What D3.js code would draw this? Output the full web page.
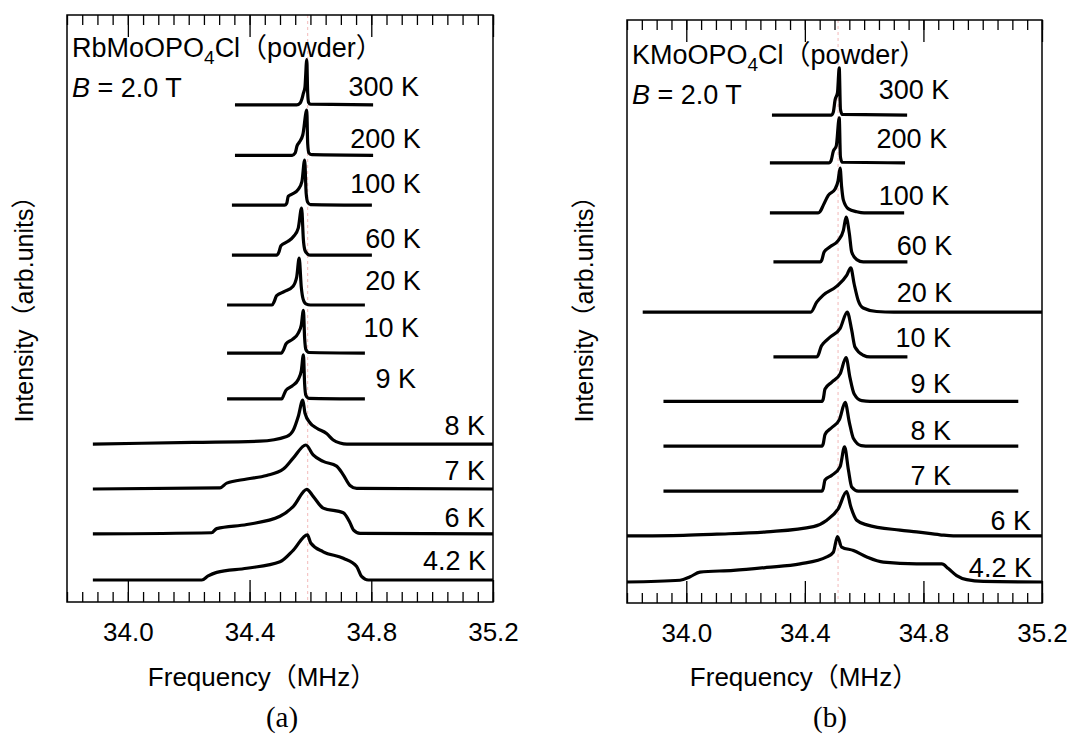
<!DOCTYPE html>
<html>
<head>
<meta charset="utf-8">
<script src="https://d3js.org/d3.v7.min.js"></script>
<style>
  body { margin: 0; background: #fff; }
  svg text { font-family: "Liberation Sans", Arial, "Noto Sans CJK JP", sans-serif; fill: #000; }
  .trace { fill: none; stroke: #000; stroke-width: 3.2; stroke-linejoin: round; }
  .frame { fill: none; stroke: #000; stroke-width: 1.5; }
  .axis line { stroke: #000; stroke-width: 1.3; }
  .axis path { display: none; }
  .refline { stroke: #f3b9b9; stroke-width: 1; stroke-dasharray: 3,3; }
</style>
</head>
<body>
<script>
// temperature labels (top to bottom)
var temps = ["300 K", "200 K", "100 K", "60 K", "20 K", "10 K", "9 K", "8 K", "7 K", "6 K", "4.2 K"];

// (a) RbMoOPO4Cl : vertical offset of each trace (arb. units) and [MHz, intensity] points
var offsetsA = [84.7, 76.1, 67.6, 59.1, 50.6, 42.4, 34.6, 26.9, 19.25, 11.6, 3.75];
var spectraA = [
  [[34.352,0],[34.555,0],[34.566,0.3],[34.572,1.0],[34.577,2.0],[34.582,3.0],[34.588,7.7],[34.591,2.0],[34.594,0.4],[34.600,0.1],[34.806,0]],
  [[34.352,0],[34.540,0],[34.550,0.4],[34.556,1.6],[34.563,2.2],[34.575,3.5],[34.588,7.7],[34.591,2.0],[34.595,0.4],[34.605,0.1],[34.806,0]],
  [[34.342,0],[34.515,0],[34.522,0.3],[34.527,1.5],[34.540,1.9],[34.560,2.7],[34.572,4.0],[34.581,7.7],[34.586,2.0],[34.591,0.5],[34.600,0.1],[34.802,0]],
  [[34.342,0],[34.490,0],[34.497,0.6],[34.503,1.6],[34.525,2.3],[34.545,3.2],[34.560,4.6],[34.571,8.0],[34.577,2.5],[34.582,0.8],[34.590,0.2],[34.600,0],[34.802,0]],
  [[34.326,0],[34.474,0],[34.481,0.6],[34.489,1.6],[34.515,2.3],[34.543,3.2],[34.555,4.8],[34.563,8.0],[34.570,3.0],[34.576,1.0],[34.585,0.2],[34.600,0],[34.779,0]],
  [[34.326,0],[34.505,0],[34.512,0.6],[34.520,1.6],[34.540,2.3],[34.560,3.4],[34.570,4.8],[34.577,7.3],[34.581,2.5],[34.585,0.6],[34.595,0.1],[34.779,0]],
  [[34.326,0],[34.506,0],[34.512,0.6],[34.520,1.5],[34.540,2.2],[34.560,3.3],[34.570,4.8],[34.577,7.5],[34.581,2.5],[34.585,0.6],[34.595,0.1],[34.779,0]],
  [[33.885,0],[34.215,0.3],[34.434,0.5],[34.522,1.3],[34.544,2.4],[34.560,4.7],[34.575,7.5],[34.582,5.3],[34.599,3.6],[34.621,2.7],[34.653,1.8],[34.675,0.7],[34.697,0.2],[34.720,0],[35.2,0]],
  [[33.885,0],[34.303,0.2],[34.325,1.0],[34.391,1.7],[34.456,2.3],[34.511,3.4],[34.544,5.3],[34.585,7.5],[34.609,5.8],[34.642,4.7],[34.686,3.9],[34.708,2.4],[34.730,0.6],[34.752,0.1],[35.2,0]],
  [[33.885,0],[34.275,0.2],[34.292,0.9],[34.391,1.6],[34.500,3.0],[34.544,4.7],[34.588,7.6],[34.609,6.4],[34.642,4.4],[34.708,3.6],[34.730,1.9],[34.741,0.7],[34.763,0.1],[35.2,0]],
  [[33.885,0],[34.243,0],[34.264,0.7],[34.292,1.3],[34.391,2.0],[34.500,3.1],[34.544,5.1],[34.590,7.7],[34.601,6.3],[34.642,4.8],[34.708,3.7],[34.752,2.3],[34.768,0.6],[34.790,0],[35.2,0]]
];

// (b) KMoOPO4Cl
var offsetsB = [83.7, 75.5, 66.9, 58.5, 49.9, 42.2, 34.6, 26.9, 19.2, 11.5, 3.6];
var spectraB = [
  [[34.289,0],[34.490,0],[34.496,0.5],[34.502,2.6],[34.510,3.8],[34.516,8.1],[34.520,1.0],[34.526,0.1],[34.745,0]],
  [[34.282,0],[34.482,0],[34.488,0.3],[34.496,2.0],[34.506,2.9],[34.516,7.7],[34.520,1.0],[34.526,0.1],[34.738,0]],
  [[34.282,0],[34.445,0],[34.451,0.2],[34.462,1.3],[34.479,3.0],[34.502,4.1],[34.512,5.5],[34.519,7.7],[34.524,4.5],[34.530,2.2],[34.547,0.7],[34.575,0.2],[34.600,0],[34.735,0]],
  [[34.294,0],[34.452,0],[34.457,0.3],[34.465,1.7],[34.485,2.6],[34.513,3.7],[34.530,5.4],[34.539,7.7],[34.550,4.9],[34.558,1.7],[34.575,0.4],[34.597,0],[34.746,0]],
  [[33.853,0],[34.420,0],[34.440,1.7],[34.462,2.9],[34.507,4.4],[34.541,6.3],[34.555,7.6],[34.566,4.9],[34.580,2.0],[34.597,0.7],[34.642,0.1],[34.700,0],[35.2,0]],
  [[34.294,0],[34.440,0],[34.445,0.3],[34.455,1.8],[34.462,2.3],[34.485,3.4],[34.519,4.9],[34.543,7.7],[34.558,4.6],[34.569,1.7],[34.597,0.3],[34.620,0],[34.746,0]],
  [[33.923,0],[34.458,0],[34.462,0.4],[34.468,2.1],[34.491,3.3],[34.519,4.7],[34.539,7.5],[34.552,4.1],[34.566,1.3],[34.592,0.1],[34.620,0],[35.120,0]],
  [[33.923,0],[34.458,0],[34.462,0.4],[34.468,2.0],[34.491,3.2],[34.517,4.6],[34.536,7.5],[34.550,4.1],[34.564,1.3],[34.590,0.1],[34.620,0],[35.120,0]],
  [[33.923,0],[34.458,0],[34.462,0.4],[34.468,1.9],[34.491,2.7],[34.519,4.2],[34.534,7.6],[34.547,3.6],[34.558,0.7],[34.580,0],[35.120,0]],
  [[33.8,0],[33.990,0.1],[34.103,0.3],[34.271,0.7],[34.429,1.6],[34.474,2.7],[34.513,4.7],[34.541,7.6],[34.555,5.0],[34.575,2.7],[34.609,1.9],[34.721,1.0],[34.777,0.7],[34.856,0.2],[34.901,0],[35.2,0]],
  [[33.8,0],[33.979,0.3],[34.013,0.9],[34.046,1.7],[34.159,2.0],[34.271,2.5],[34.384,3.1],[34.474,4.3],[34.496,5.1],[34.510,7.8],[34.524,6.0],[34.564,5.4],[34.609,4.3],[34.665,3.4],[34.777,3.1],[34.862,3.1],[34.884,2.3],[34.912,1.1],[34.946,0.4],[35.002,0.1],[35.2,0]]
];

var majorTicks = [34.0, 34.4, 34.8, 35.2];
var minorTicks = d3.range(0, 29).map(function(i) { return +(33.8 + i * 0.05).toFixed(2); });

var svg = d3.select("body").append("svg")
    .attr("width", 1069)
    .attr("height", 740);

function drawPanel(cfg) {
  var x = d3.scaleLinear().domain([33.8, 35.2]).range([cfg.left, cfg.right]);
  var y = d3.scaleLinear().domain([0, 100]).range([cfg.bottom, cfg.top]);
  var g = svg.append("g");

  // faint dotted guide
  g.append("line").attr("class", "refline")
      .attr("x1", x(cfg.refFreq)).attr("x2", x(cfg.refFreq))
      .attr("y1", cfg.top).attr("y2", cfg.bottom);

  // ticks (inward, top and bottom)
  g.append("g").attr("class", "axis")
      .attr("transform", "translate(0," + cfg.bottom + ")")
      .call(d3.axisBottom(x).tickValues(minorTicks).tickSizeInner(-10).tickSizeOuter(0).tickFormat(""));
  var bot = g.append("g").attr("class", "axis")
      .attr("transform", "translate(0," + cfg.bottom + ")")
      .call(d3.axisBottom(x).tickValues(majorTicks).tickSizeInner(-22).tickSizeOuter(0)
            .tickPadding(21).tickFormat(d3.format(".1f")));
  bot.selectAll("text").attr("font-size", 26).attr("font-family", null);
  g.append("g").attr("class", "axis")
      .attr("transform", "translate(0," + cfg.top + ")")
      .call(d3.axisTop(x).tickValues(minorTicks).tickSizeInner(-10).tickSizeOuter(0).tickFormat(""));
  g.append("g").attr("class", "axis")
      .attr("transform", "translate(0," + cfg.top + ")")
      .call(d3.axisTop(x).tickValues(majorTicks).tickSizeInner(-22).tickSizeOuter(0).tickFormat(""));

  g.append("rect").attr("class", "frame")
      .attr("x", cfg.left).attr("y", cfg.top)
      .attr("width", cfg.right - cfg.left).attr("height", cfg.bottom - cfg.top);

  // spectra
  var line = d3.line()
      .x(function(d) { return x(d[0]); })
      .y(function(d) { return y(d[1]); })
      .curve(d3.curveMonotoneX);

  cfg.spectra.forEach(function(s, i) {
    var off = cfg.offsets[i];
    g.append("path").attr("class", "trace")
        .attr("d", line(s.map(function(p) { return [p[0], p[1] + off]; })));
    g.append("text")
        .attr("x", x(cfg.labelFreq[i]))
        .attr("y", y(off) - cfg.labelLift[i])
        .attr("text-anchor", "end")
        .attr("font-size", 27)
        .text(temps[i]);
  });

  // sample name and field
  var t = g.append("text").attr("x", cfg.left + 5).attr("y", cfg.top + cfg.titleDy).attr("font-size", 27);
  t.append("tspan").text(cfg.name);
  t.append("tspan").attr("font-size", 19).attr("dy", 7).text("4");
  t.append("tspan").attr("dy", -7).text("Cl（powder）");

  var b = g.append("text").attr("x", cfg.left + 5).attr("y", cfg.top + cfg.titleDy + 40).attr("font-size", 27);
  b.append("tspan").attr("font-style", "italic").text("B");
  b.append("tspan").text(" = 2.0 T");

  // axis titles
  g.append("text")
      .attr("x", cfg.xTitleX).attr("y", 686)
      .attr("text-anchor", "middle").attr("font-size", 26)
      .text("Frequency（MHz）");
  g.append("text")
      .attr("transform", "translate(" + cfg.yTitleX + ",303) rotate(-90)")
      .attr("text-anchor", "middle").attr("font-size", 25)
      .text("Intensity（arb.units）");
  g.append("text")
      .attr("x", cfg.tagX).attr("y", 727)
      .attr("text-anchor", "middle").attr("font-size", 29)
      .style("font-family", "'Liberation Serif', 'DejaVu Serif', serif")
      .text(cfg.tag);
}

drawPanel({
  left: 67, right: 493, top: 15, bottom: 602,
  spectra: spectraA, offsets: offsetsA, refFreq: 34.591,
  labelFreq: [34.957, 34.963, 34.963, 34.963, 34.963, 34.957, 34.947, 35.174, 35.174, 35.174, 35.177],
  labelLift: [9, 7, 12, 7, 15, 16, 11, 9, 9, 7, 10],
  name: "RbMoOPO", titleDy: 42,
  xTitleX: 262, yTitleX: 33, tagX: 282, tag: "(a)"
});

drawPanel({
  left: 627, right: 1042, top: 20, bottom: 603,
  spectra: spectraB, offsets: offsetsB, refFreq: 34.512,
  labelFreq: [34.887, 34.880, 34.887, 34.897, 34.897, 34.893, 34.893, 34.893, 34.893, 35.163, 35.166],
  labelLift: [16, 15, 8, 7, 10, 10, 8, 6, 6, 6, 5],
  name: "KMoOPO", titleDy: 44,
  xTitleX: 804, yTitleX: 593, tagX: 830, tag: "(b)"
});
</script>
</body>
</html>
